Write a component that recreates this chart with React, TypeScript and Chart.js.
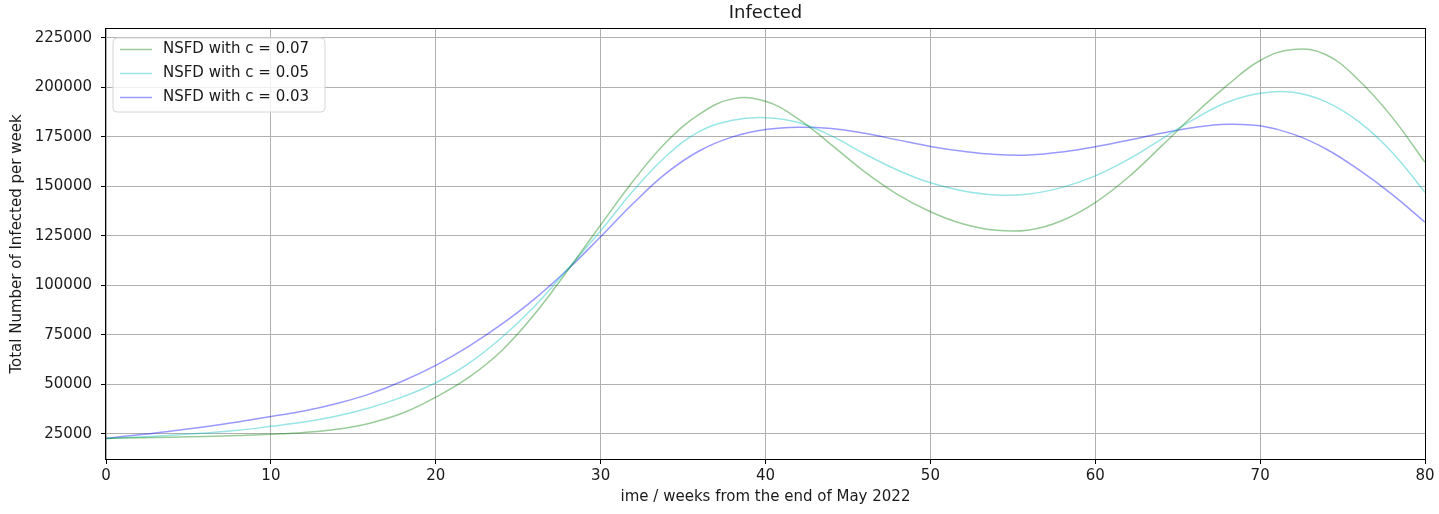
import React, { useEffect, useRef } from "react";
import { Chart, registerables } from "chart.js";

Chart.register(...registerables);

// ---- data ----
const weeks = [0, 2, 4, 6, 8, 10, 12, 14, 16, 18, 20, 22, 24, 26, 28, 30, 32, 34, 36, 38, 40, 42, 44, 46, 48, 50, 52, 54, 56, 58, 60, 62, 64, 66, 68, 70, 72, 74, 76, 78, 80];

const seriesLabels = ["NSFD with c = 0.07", "NSFD with c = 0.05", "NSFD with c = 0.03"];

const infectedC007 = [22700, 23000, 23300, 23700, 24200, 24800, 25700, 27300, 30400, 35500, 43500, 53500, 67000, 85500, 107500, 130500, 153000, 172500, 186500, 194200, 193000, 184000, 171000, 157500, 146000, 137200, 131000, 127800, 128000, 132800, 141800, 154600, 170200, 186300, 201000, 213600, 219200, 216500, 203500, 185000, 162200];

const infectedC005 = [22600, 23400, 24300, 25400, 26800, 28800, 31000, 34000, 38200, 43700, 50800, 60600, 73700, 89500, 108300, 127600, 148000, 165500, 177800, 183400, 184700, 182300, 175500, 166500, 158300, 151800, 147700, 145700, 146200, 149500, 155300, 163600, 173800, 184000, 192500, 197100, 197500, 192700, 182600, 167300, 147000];

const infectedC003 = [22800, 24500, 26500, 28600, 31000, 33800, 36500, 40300, 45200, 51700, 59600, 69200, 80400, 93200, 108000, 124600, 141600, 156800, 168000, 175000, 178700, 179900, 179200, 176800, 173500, 170200, 167700, 166100, 165900, 167400, 170000, 173300, 176800, 179800, 181400, 180600, 176400, 168900, 158300, 146000, 131900];

const xTickValues = [0, 10, 20, 30, 40, 50, 60, 70, 80];
const yTickValues = [25000, 50000, 75000, 100000, 125000, 150000, 175000, 200000, 225000];

const chartTitle = "Infected";
const xAxisTitle = "ime / weeks from the end of May 2022";
const yAxisTitle = "Total Number of Infected per week";

// ---- styles ----
const FONT = "'DejaVu Sans', sans-serif";
const TEXT = "#1a1a1a";
const seriesColors = ["rgba(0,128,0,0.4)", "rgba(0,191,191,0.4)", "rgba(0,0,255,0.4)"];

const framePlugin = {
  id: "frameTitleLegend",
  afterDraw(chart: any) {
    const { ctx, chartArea } = chart;
    const { left, right, top, bottom } = chartArea;
    ctx.save();
    // spines
    ctx.strokeStyle = "#000";
    ctx.lineWidth = 1;
    ctx.strokeRect(Math.round(left) - 0.5, Math.round(top) - 0.5, Math.round(right - left) + 1, Math.round(bottom - top) + 1);

    // title
    ctx.fillStyle = TEXT;
    ctx.font = `18px ${FONT}`;
    ctx.textAlign = "center";
    ctx.textBaseline = "middle";
    ctx.fillText(chartTitle, (left + right) / 2, 13);

    // legend
    const bx = 113, by = 38, bw = 212, bh = 74, r = 4;
    ctx.beginPath();
    ctx.moveTo(bx + r, by);
    ctx.lineTo(bx + bw - r, by);
    ctx.quadraticCurveTo(bx + bw, by, bx + bw, by + r);
    ctx.lineTo(bx + bw, by + bh - r);
    ctx.quadraticCurveTo(bx + bw, by + bh, bx + bw - r, by + bh);
    ctx.lineTo(bx + r, by + bh);
    ctx.quadraticCurveTo(bx, by + bh, bx, by + bh - r);
    ctx.lineTo(bx, by + r);
    ctx.quadraticCurveTo(bx, by, bx + r, by);
    ctx.closePath();
    ctx.fillStyle = "rgba(255,255,255,0.8)";
    ctx.fill();
    ctx.strokeStyle = "#d6d6d6";
    ctx.stroke();

    ctx.font = `15px ${FONT}`;
    ctx.textAlign = "left";
    chart.data.datasets.forEach((ds: any, i: number) => {
      const y = 49 + i * 24;
      ctx.strokeStyle = ds.borderColor;
      ctx.lineWidth = 1.5;
      ctx.beginPath();
      ctx.moveTo(120, y + 0.5);
      ctx.lineTo(152, y + 0.5);
      ctx.stroke();
      ctx.fillStyle = TEXT;
      ctx.fillText(ds.label, 163, y);
    });
    ctx.restore();
  },
};

export default function App() {
  const canvasRef = useRef<HTMLCanvasElement | null>(null);

  useEffect(() => {
    document.body.style.margin = "0";
    const canvas = canvasRef.current;
    if (!canvas) return;
    const series = [infectedC007, infectedC005, infectedC003];
    const chart = new Chart(canvas, {
      type: "line",
      data: {
        datasets: series.map((vals, i) => ({
          label: seriesLabels[i],
          data: weeks.map((w, j) => ({ x: w, y: vals[j] })),
          borderColor: seriesColors[i],
          borderWidth: 1.5,
          pointRadius: 0,
          tension: 0.4,
          fill: false,
        })),
      },
      options: {
        animation: false,
        responsive: false,
        devicePixelRatio: 1,
        layout: { padding: { top: 29, right: 14, left: 0, bottom: 0 } },
        plugins: {
          legend: { display: false },
          title: { display: false },
          tooltip: { enabled: false },
        },
        scales: {
          x: {
            type: "linear",
            min: 0,
            max: 80,
            afterBuildTicks: (scale: any) => {
              scale.ticks = xTickValues.map((v) => ({ value: v }));
            },
            afterFit: (scale: any) => {
              scale.height = 55;
            },
            ticks: {
              color: TEXT,
              font: { family: FONT, size: 15 },
              padding: 3,
              maxRotation: 0,
              callback: (v: any) => String(v),
            },
            grid: { color: "#b0b0b0", lineWidth: 1, tickLength: 5, tickColor: "#000" },
            border: { display: false },
            title: {
              display: true,
              text: xAxisTitle,
              color: TEXT,
              font: { family: FONT, size: 15 },
              padding: { top: 0, bottom: 8 },
            },
          },
          y: {
            type: "linear",
            min: 12300,
            max: 229500,
            afterBuildTicks: (scale: any) => {
              scale.ticks = yTickValues.map((v) => ({ value: v }));
            },
            afterFit: (scale: any) => {
              scale.width = 106;
            },
            ticks: {
              color: TEXT,
              font: { family: FONT, size: 15 },
              padding: 9,
              callback: (v: any) => String(v),
            },
            grid: { color: "#b0b0b0", lineWidth: 1, tickLength: 5, tickColor: "#000" },
            border: { display: false },
            title: {
              display: true,
              text: yAxisTitle,
              color: TEXT,
              font: { family: FONT, size: 15 },
              padding: { top: 8, bottom: 0 },
            },
          },
        },
      },
      plugins: [framePlugin],
    });
    return () => chart.destroy();
  }, []);

  return (
    <div style={{ position: "fixed", left: 0, top: 0, width: 1439, height: 514, background: "#fff" }}>
      <canvas ref={canvasRef} width={1439} height={514} />
    </div>
  );
}
